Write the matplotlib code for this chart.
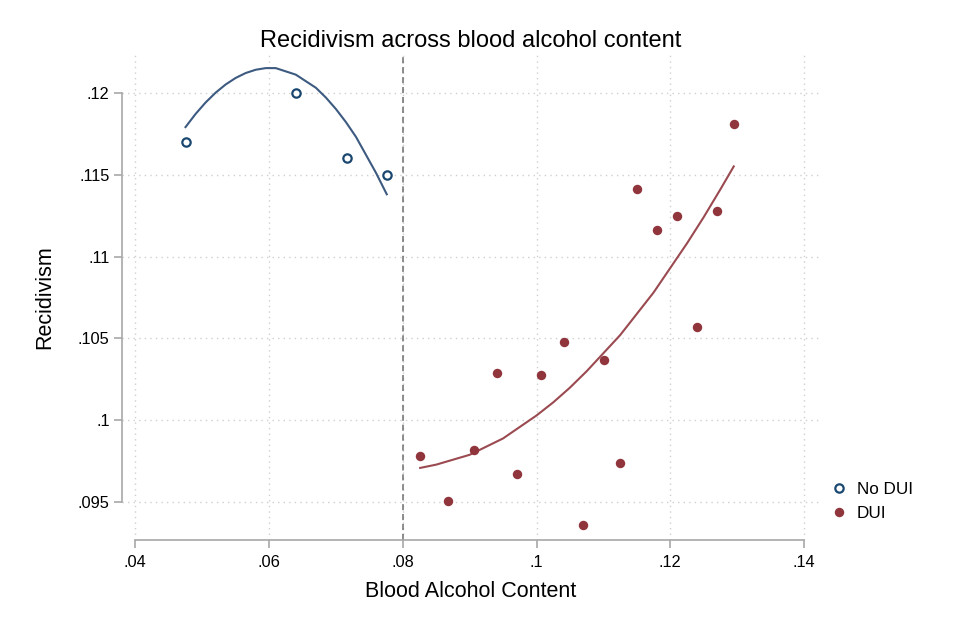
import numpy as np
import matplotlib
matplotlib.use("Agg")
import matplotlib.pyplot as plt

plt.rcParams['font.family'] = ['Liberation Sans', 'DejaVu Sans']

# binned means
nodui_bac = [0.0475, 0.0640, 0.0717, 0.0776]
nodui_rec = [0.1170, 0.1200, 0.1160, 0.1150]

dui_bac = [0.0826, 0.0867, 0.0906, 0.0941, 0.0971, 0.1006, 0.1041, 0.1070,
           0.1101, 0.1125, 0.1150, 0.1180, 0.1210, 0.1240, 0.1270, 0.1296]
dui_rec = [0.0978, 0.0951, 0.0982, 0.1029, 0.0967, 0.1028, 0.1048, 0.0936,
           0.1037, 0.0974, 0.1141, 0.1116, 0.1125, 0.1057, 0.1128, 0.1181]

# quadratic fit lines
nodui_fit_x = [0.0475, 0.0490, 0.0505, 0.0520, 0.0535, 0.0550, 0.0565, 0.0580,
               0.0595, 0.0610, 0.0625, 0.0640, 0.0655, 0.0670, 0.0685, 0.0700,
               0.0715, 0.0730, 0.0745, 0.0760, 0.0776]
nodui_fit_y = [0.1179, 0.1187, 0.1194, 0.1200, 0.1205, 0.1209, 0.1212, 0.1214,
               0.1215, 0.1215, 0.1213, 0.1211, 0.1207, 0.1203, 0.1197, 0.1190,
               0.1182, 0.1173, 0.1162, 0.1151, 0.1138]

dui_fit_x = [0.0826, 0.0850, 0.0875, 0.0900, 0.0925, 0.0950, 0.0975, 0.1000,
             0.1025, 0.1050, 0.1075, 0.1100, 0.1125, 0.1150, 0.1175, 0.1200,
             0.1225, 0.1250, 0.1275, 0.1295]
dui_fit_y = [0.0971, 0.0973, 0.0976, 0.0979, 0.0984, 0.0989, 0.0996, 0.1003,
             0.1011, 0.1020, 0.1030, 0.1041, 0.1052, 0.1065, 0.1078, 0.1093,
             0.1108, 0.1124, 0.1141, 0.1155]

xticks = [0.04, 0.06, 0.08, 0.10, 0.12, 0.14]
xticklabels = ['.04', '.06', '.08', '.1', '.12', '.14']
yticks = [0.095, 0.100, 0.105, 0.110, 0.115, 0.120]
yticklabels = ['.095', '.1', '.105', '.11', '.115', '.12']

navy = '#1a476f'
maroon = '#90353b'
axcol = '#a8a8a8'

fig = plt.figure(figsize=(9.58, 6.38), dpi=100)
ax = fig.add_axes([122/958, 1-540/638, (820-122)/958, (540-55)/638])

ax.grid(True, color='#cfcfcf', linestyle=(0, (1, 3)), linewidth=1.0)
ax.set_axisbelow(True)
ax.axvline(0.08, color='#6e6e6e', linestyle=(0, (4, 2.5)), linewidth=1.1, zorder=1)

ax.plot(nodui_fit_x, nodui_fit_y, color='#3d5a80', linewidth=1.5, zorder=2)
ax.plot(dui_fit_x, dui_fit_y, color='#9a4a50', linewidth=1.5, zorder=2)

ax.plot(nodui_bac, nodui_rec, 'o', markersize=6, markerfacecolor='white',
        markeredgecolor=navy, markeredgewidth=1.6, label='No DUI', zorder=3)
ax.plot(dui_bac, dui_rec, 'o', markersize=6.8, color=maroon,
        markeredgewidth=0, label='DUI', zorder=3)

ax.set_xlim(0.038, 0.1424)
ax.set_ylim(0.0927, 0.1223)
ax.set_xticks(xticks)
ax.set_xticklabels(xticklabels)
ax.set_yticks(yticks)
ax.set_yticklabels(yticklabels)

for s in ['top', 'right']:
    ax.spines[s].set_visible(False)
for s in ['left', 'bottom']:
    ax.spines[s].set_color(axcol)
    ax.spines[s].set_linewidth(1.2)
ax.spines['left'].set_bounds(0.095, 0.120)
ax.spines['bottom'].set_bounds(0.04, 0.14)
ax.tick_params(axis='both', colors=axcol, length=6, width=1.2, labelcolor='black',
               labelsize=11.8)
ax.tick_params(axis='x', pad=5)
ax.tick_params(axis='y', pad=3)

ax.set_title('Recidivism across blood alcohol content', fontsize=17, pad=6)
ax.set_xlabel('Blood Alcohol Content', fontsize=15.5, labelpad=8)
ax.set_ylabel('Recidivism', fontsize=15.5, labelpad=16)

ax.legend(loc='upper left', bbox_to_anchor=(827/958, 1-475/638),
          bbox_transform=fig.transFigure, frameon=False, fontsize=12.3,
          handlelength=0.6, handletextpad=0.75, labelspacing=0.55, borderaxespad=0)

fig.savefig('out.png', dpi=100)
